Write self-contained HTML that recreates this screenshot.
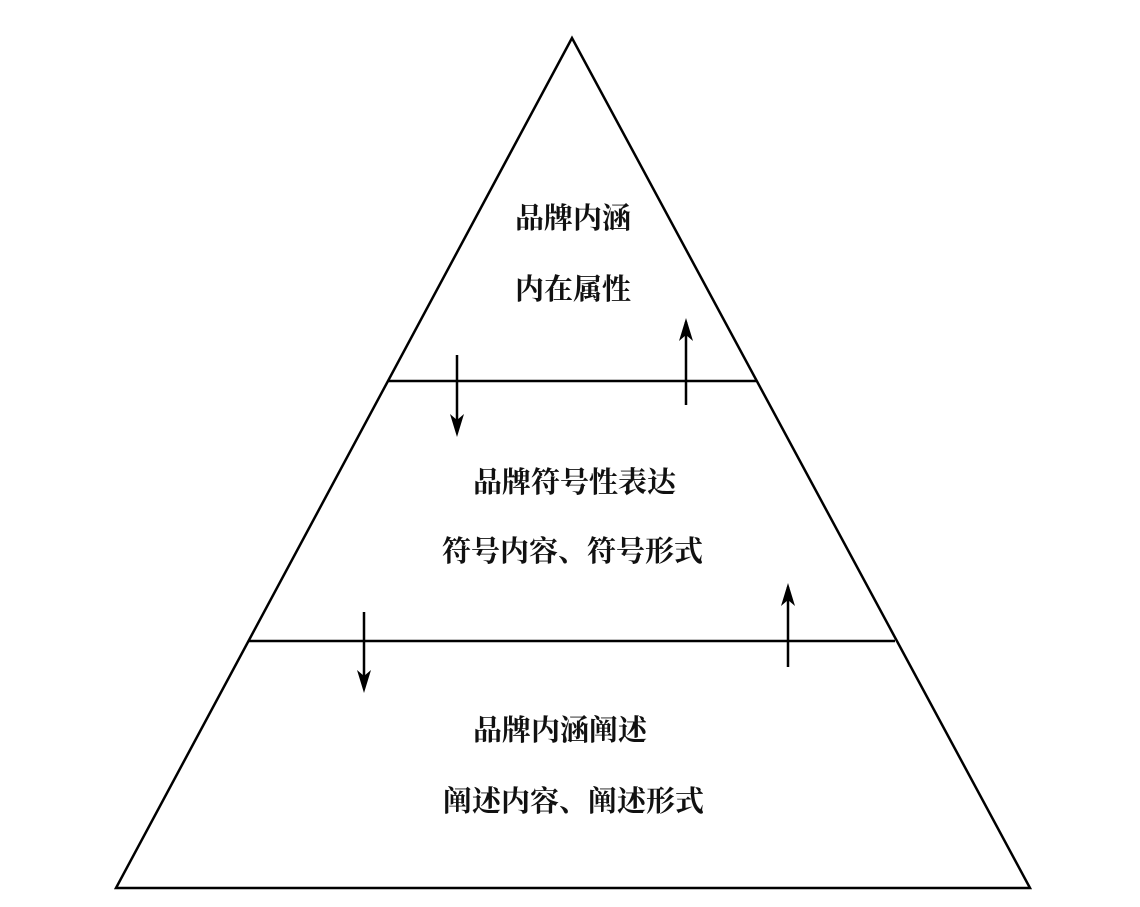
<!DOCTYPE html>
<html><head><meta charset="utf-8"><style>html,body{margin:0;padding:0;background:#fff}svg{display:block}text{font-family:"Liberation Serif","Noto Serif CJK SC",serif;font-size:29px;font-weight:700;fill:#111}</style></head>
<body>
<svg width="1140" height="907" viewBox="0 0 1140 907" xmlns="http://www.w3.org/2000/svg">
<polygon points="572,38 116,888 1030,888" fill="none" stroke="#000" stroke-width="2.5"/>
<line x1="388" y1="381" x2="756" y2="381" stroke="#000" stroke-width="2.5"/>
<line x1="249" y1="641" x2="895" y2="641" stroke="#000" stroke-width="2.5"/>
<g stroke="#000" stroke-width="2.5">
<line x1="457" y1="355" x2="457" y2="432"/>
<path d="M450,414 L457,437 L464,414 L457,420Z" fill="#000" stroke="none"/>
<line x1="686" y1="405" x2="686" y2="322"/>
<path d="M679,341 L686,318 L693,341 L686,335Z" fill="#000" stroke="none"/>
<line x1="364" y1="612" x2="364" y2="688"/>
<path d="M357,670 L364,693 L371,670 L364,676Z" fill="#000" stroke="none"/>
<line x1="788" y1="667" x2="788" y2="587"/>
<path d="M781,606 L788,583 L795,606 L788,600Z" fill="#000" stroke="none"/>
</g>
<text x="515" y="228">品牌内涵</text>
<text x="515" y="299">内在属性</text>
<text x="473" y="492">品牌符号性表达</text>
<text x="442" y="561">符号内容、符号形式</text>
<text x="473" y="740">品牌内涵阐述</text>
<text x="443" y="811">阐述内容、阐述形式</text>
</svg>
</body></html>
